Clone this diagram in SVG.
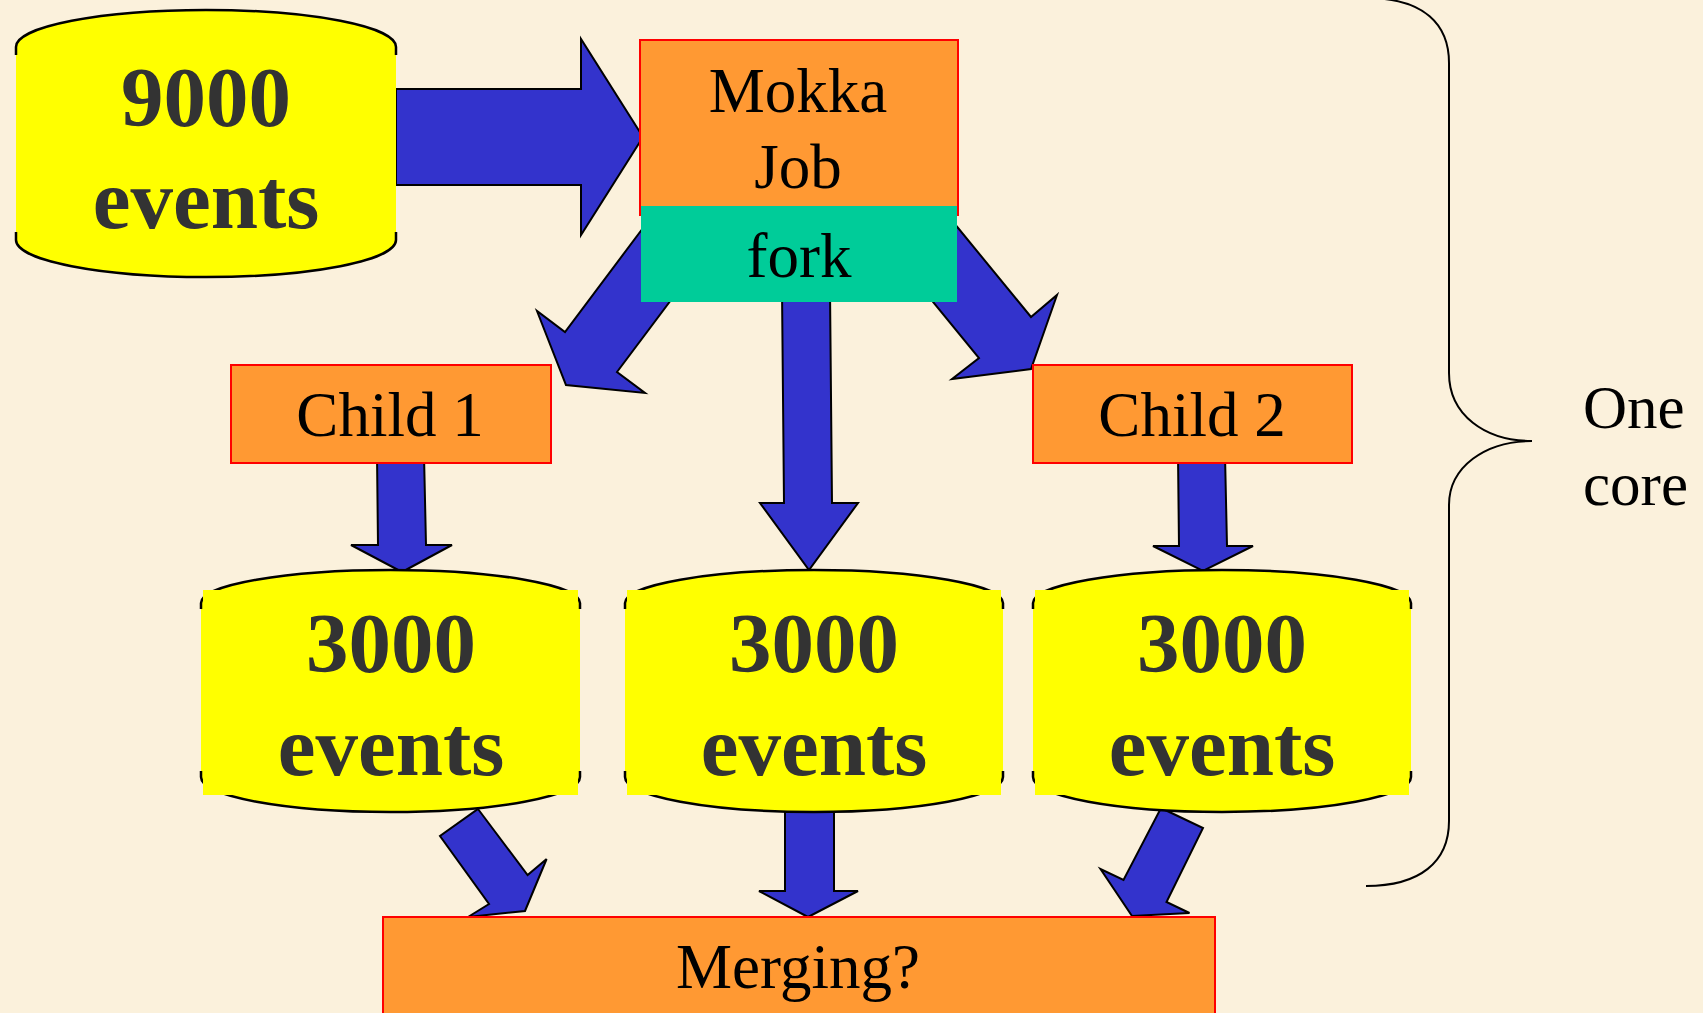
<svg xmlns="http://www.w3.org/2000/svg" width="1703" height="1013" viewBox="0 0 1703 1013">
<style>
.arrow{fill:#3333CC;stroke:#000;stroke-width:2;stroke-linejoin:miter}
.box{fill:#FF9933;stroke:#FF0000;stroke-width:2}
.teal{fill:#00CC99}
.body{fill:#FFFF00}
.rim{fill:none;stroke:#000;stroke-width:2.5}
.big{font-family:"Liberation Serif","Times New Roman",serif;font-weight:bold;font-size:85px;fill:#333333;text-anchor:middle}
.lbl{font-family:"Liberation Serif","Times New Roman",serif;font-size:63px;fill:#000;text-anchor:middle}
.side{font-family:"Liberation Serif","Times New Roman",serif;font-size:61px;fill:#000}
.brace{fill:none;stroke:#000;stroke-width:2}
</style>
<rect x="0" y="0" width="1703" height="1013" fill="#FBF1DC"/>

<g id="connectors">
  <polygon class="arrow" points="396,89 581,89 581,39 643,137 581,235 581,185 396,185"/>
  <polygon class="arrow" points="655,212 565,332 537,311 566,385 645,393 617,372 707,252"/>
  <polygon class="arrow" points="782,290 784,503 760,503 809,570 858,503 832,503 830,290"/>
  <polygon class="arrow" points="936,201 1031,317 1057,295 1031,369 952,379 979,358 884,242"/>
  <polygon class="arrow" points="377,455 378,545 351,545 402,572 452,545 426,545 424,455"/>
  <polygon class="arrow" points="1178,455 1179,546 1153,546 1203,571 1253,546 1227,546 1225,455"/>
  <polygon class="arrow" points="478,809 527.6,875 546.6,859 525,911 468,917 489,904 440,836"/>
  <polygon class="arrow" points="785,805 785,891 759,891 808,917 858,891 834,891 834,805"/>
  <polygon class="arrow" points="1161,808 1203,828 1166.5,902 1189.5,913 1132,916 1100.5,869 1123.5,880"/>
</g>

<g id="input-9000">
  <path class="body" d="M16,47 A190,37 0 0 1 396,47 L396,240 A190,37 0 0 1 16,240 Z"/>
  <path class="rim" d="M16,55 L16,47 A190,37 0 0 1 396,47 L396,55"/>
  <path class="rim" d="M16,232 L16,240 A190,37 0 0 0 396,240 L396,232"/>
  <text class="big" x="206" y="126">9000</text>
  <text class="big" x="206" y="228">events</text>
</g>

<g id="mokka-job">
  <rect class="box" x="640" y="40" width="318" height="175"/>
  <text class="lbl" x="798" y="112">Mokka</text>
  <text class="lbl" x="798" y="188">Job</text>
</g>

<g id="fork">
  <rect class="teal" x="641" y="206" width="316" height="96"/>
  <text class="lbl" x="799" y="277">fork</text>
</g>

<g id="child-1">
  <rect class="box" x="231" y="365" width="320" height="98"/>
  <text class="lbl" x="390" y="436">Child 1</text>
</g>

<g id="child-2">
  <rect class="box" x="1033" y="365" width="319" height="98"/>
  <text class="lbl" x="1192" y="436">Child 2</text>
</g>

<g id="events-1">
  <path class="body" d="M201,603 A189.5,33 0 0 1 580,603 L580,777 A189.5,35 0 0 1 201,777 Z"/>
  <path class="rim" d="M201,609 L201,603 A189.5,33 0 0 1 580,603 L580,609"/>
  <path class="rim" d="M201,771 L201,777 A189.5,35 0 0 0 580,777 L580,771"/>
  <rect class="body" x="203" y="590" width="375" height="205"/>
  <text class="big" x="391" y="672">3000</text>
  <text class="big" x="391" y="775">events</text>
</g>

<g id="events-2">
  <path class="body" d="M625,603 A189,33 0 0 1 1003,603 L1003,777 A189,35 0 0 1 625,777 Z"/>
  <path class="rim" d="M625,609 L625,603 A189,33 0 0 1 1003,603 L1003,609"/>
  <path class="rim" d="M625,771 L625,777 A189,35 0 0 0 1003,777 L1003,771"/>
  <rect class="body" x="627" y="590" width="374" height="205"/>
  <text class="big" x="814" y="672">3000</text>
  <text class="big" x="814" y="775">events</text>
</g>

<g id="events-3">
  <path class="body" d="M1033,603 A189,33 0 0 1 1411,603 L1411,777 A189,35 0 0 1 1033,777 Z"/>
  <path class="rim" d="M1033,609 L1033,603 A189,33 0 0 1 1411,603 L1411,609"/>
  <path class="rim" d="M1033,771 L1033,777 A189,35 0 0 0 1411,777 L1411,771"/>
  <rect class="body" x="1035" y="590" width="374" height="205"/>
  <text class="big" x="1222" y="672">3000</text>
  <text class="big" x="1222" y="775">events</text>
</g>

<g id="merging">
  <rect class="box" x="383" y="917" width="832" height="110"/>
  <text class="lbl" x="798" y="988">Merging?</text>
</g>

<g id="one-core">
  <path class="brace" d="M1366,-2 C1425,-2 1449,25 1449,63 L1449,373 C1449,415 1485,441 1532,441 C1485,441 1449,467 1449,505 L1449,821 C1449,862 1420,886 1366,886"/>
  <text class="side" x="1583" y="428">One</text>
  <text class="side" x="1583" y="505">core</text>
</g>
</svg>
